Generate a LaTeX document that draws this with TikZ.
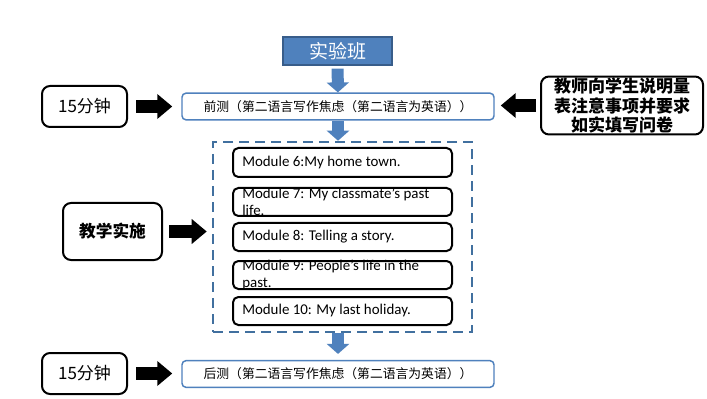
\documentclass[tikz,border=0pt]{standalone}
\usepackage{fontspec}
\setmainfont{Carlito}
\newfontfamily\cjk{Noto Sans CJK SC}
\usetikzlibrary{arrows.meta}
\definecolor{boxblue}{HTML}{4F81BD}
\definecolor{boxbluedark}{HTML}{385D8A}
\definecolor{frameblue}{HTML}{41709F}
\begin{document}
\begin{tikzpicture}[x=0.75pt,y=-0.75pt,
  titlebox/.style={draw=boxbluedark,fill=boxblue,line width=1pt,text=white,
    minimum width=81.75pt,minimum height=21pt,font=\cjk\fontsize{14.25}{16}\selectfont},
  testbox/.style={draw=boxblue,line width=1.1pt,rounded corners=3pt,fill=white,
    minimum width=234pt,minimum height=20pt,font=\cjk\fontsize{9.6}{11}\selectfont},
  timebox/.style={draw=black,line width=1.5pt,rounded corners=6pt,fill=white,
    minimum width=63.75pt,minimum height=30.75pt,font=\cjk\fontsize{12.75}{15}\selectfont},
  modbox/.style={draw=black,line width=1.5pt,rounded corners=4pt,fill=white,
    minimum width=164.25pt,minimum height=21pt},
  modtext/.style={anchor=west,inner xsep=7.5pt,align=left,font=\fontsize{11.2}{12.8}\selectfont},
  blackarrow/.style={line width=9.75pt,-{Triangle[length=11.25pt,width=18pt]}},
  bluearrow/.style={line width=9pt,boxblue,-{Triangle[length=7.5pt,width=16.5pt]}}]
\useasboundingbox[fill=white] (0,0) rectangle (707,399);
\node[titlebox] (class) at (337.5,51) {实验班};
\node[testbox] (pre) at (338,106.5) {前测（第二语言写作焦虑（第二语言为英语））};
\node[testbox] (post) at (338,374) {后测（第二语言写作焦虑（第二语言为英语））};
\node[timebox] (time1) at (84.5,106.5) {15分钟};
\node[timebox] (time2) at (84.5,373.5) {15分钟};
\node[timebox,minimum width=74.25pt,minimum height=42.75pt,font=\cjk\bfseries\fontsize{12.5}{15}\selectfont] (teach) at (112.5,231.5) {教学实施};
\node[timebox,minimum width=121.5pt,minimum height=41.25pt,align=center,inner sep=1pt,
  font=\cjk\bfseries\fontsize{12.75}{14.6}\selectfont] (note) at (622,105.5)
  {教师向学生说明量\\表注意事项并要求\\如实填写问卷};
\node[draw=frameblue,line width=1.9pt,dash pattern=on 7.5pt off 4.5pt,
  minimum width=194.25pt,minimum height=142.5pt] (frame) at (342.5,237) {};
\node[modbox,minimum height=21.75pt] (mod6) at (342.5,162.5) {};
\node[modbox] (mod7) at (342.5,202) {};
\node[modbox] (mod8) at (342.5,237) {};
\node[modbox] (mod9) at (342.5,275) {};
\node[modbox] (mod10) at (342.5,311) {};
\node[modtext] at (mod6.west) {Module 6:My home town.};
\node[modtext] at (mod7.west) {Module 7: My classmate's past\\life.};
\node[modtext] at (mod8.west) {Module 8: Telling a story.};
\node[modtext] at (mod9.west) {Module 9: People's life in the\\past.};
\node[modtext] at (mod10.west) {Module 10: My last holiday.};
\draw[bluearrow,shorten <=2.25pt] (class) -- (pre);
\draw[bluearrow] (pre.south) -- (pre.south |- frame.north);
\draw[bluearrow,shorten >=4.5pt] (frame.south -| post) -- (post.north);
\draw[blackarrow,shorten <=6pt,shorten >=6.75pt] (time1) -- (time1 -| pre.west);
\draw[blackarrow,shorten <=6pt,shorten >=6.75pt] (time2) -- (time2 -| post.west);
\draw[blackarrow,shorten <=4.5pt,shorten >=3.75pt] (teach) -- (teach -| frame.west);
\draw[blackarrow,shorten <=3pt,shorten >=4.5pt] (note) -- (note -| pre.east);
\end{tikzpicture}
\end{document}
